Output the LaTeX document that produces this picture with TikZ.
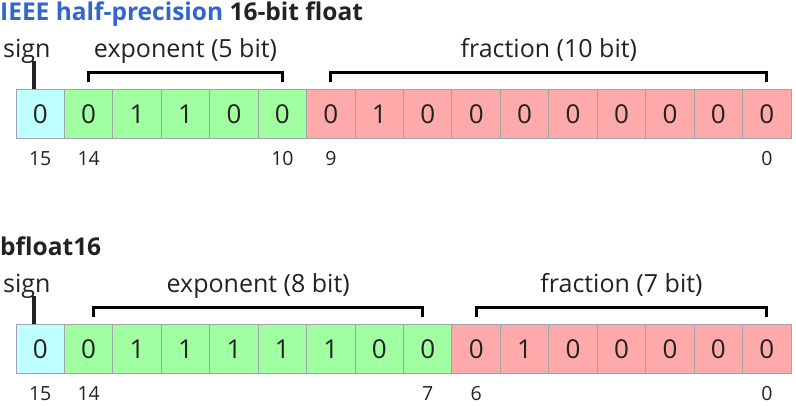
\documentclass[tikz,border=0pt]{standalone}
\usepackage{fontspec}
\setmainfont{Open Sans}
\usetikzlibrary{positioning,calc}
\definecolor{signcol}{HTML}{C0FFFF}
\definecolor{expcol}{HTML}{A0FFA0}
\definecolor{fraccol}{HTML}{FFAAAA}
\definecolor{gridcol}{HTML}{9EA4AA}
\definecolor{titleblue}{HTML}{3366CC}
\definecolor{ink}{HTML}{222222}
\begin{document}
\begin{tikzpicture}[x=1pt,y=1pt,
    cell/.style={draw=gridcol, line width=1pt, minimum width=48.44pt, minimum height=49pt,
      inner sep=0pt, font=\fontsize{26}{26}\selectfont, text=ink},
    idx/.style={font=\fontsize{19.5}{19.5}\selectfont, text=ink},
    field/.style={font=\fontsize{25}{25}\selectfont, text=ink, anchor=base, inner sep=0pt},
    bracket/.style={line width=3pt, black},
    signtick/.style={line width=3.5pt, ink},
    title/.style={font=\bfseries\fontsize{24.5}{24.5}\selectfont, text=ink, anchor=base west, inner sep=0pt}]

    \useasboundingbox (0,0) rectangle (796,406);

    % Define parameters
    \def\w{48.44}  % cell width
    \def\xo{16}    % left edge of both rows
    \def\ya{291.5} % centre of half-precision row
    \def\yb{56.5}  % centre of bfloat16 row

    % titles
    \node[title] (title1) at (0,385.3) {\textcolor{titleblue}{IEEE half-precision} 16-bit float};
    \node[title] (title2) at (0,150) {bfloat16};

    % half-precision cells
    \foreach \v [count=\k from 0] in {0,0,1,1,0,0,0,1,0,0,0,0,0,0,0,0} {
        \pgfmathtruncatemacro\n{15-\k}
        \ifnum\k<1 \def\c{signcol}\else\ifnum\k<6 \def\c{expcol}\else\def\c{fraccol}\fi\fi
        \node[cell, fill=\c] (h\n) at ({\xo+\w*(\k+0.5)}, \ya) {\v};
    }

    % bfloat16 cells
    \foreach \v [count=\k from 0] in {0,0,1,1,1,1,1,0,0,0,1,0,0,0,0,0} {
        \pgfmathtruncatemacro\n{15-\k}
        \ifnum\k<1 \def\c{signcol}\else\ifnum\k<9 \def\c{expcol}\else\def\c{fraccol}\fi\fi
        \node[cell, fill=\c] (b\n) at ({\xo+\w*(\k+0.5)}, \yb) {\v};
    }

    % bit indices
    \foreach \n in {15,14,10,9,0}
        \node[idx] (hi\n) at ([yshift=-19]h\n.south) {\n};
    \foreach \n in {15,14,7,6,0}
        \node[idx] (bi\n) at ([yshift=-19]b\n.south) {\n};

    % sign ticks
    \draw[signtick] ([xshift=-6]h15.north) -- ++(0,28);
    \draw[signtick] ([xshift=-6]b15.north) -- ++(0,28);

    % brackets
    \draw[bracket] ([yshift=7]h14.north) |- ([yshift=17]h10.north) -- ([yshift=7]h10.north);
    \draw[bracket] ([yshift=7]h9.north) |- ([yshift=17]h0.north) -- ([yshift=7]h0.north);
    \draw[bracket] ([xshift=5,yshift=7]b14.north) |- ([xshift=-5,yshift=17]b7.north) -- ([xshift=-5,yshift=7]b7.north);
    \draw[bracket] ([yshift=7]b6.north) |- ([yshift=17]b0.north) -- ([yshift=7]b0.north);

    % labels
    \node[field] (sgn1) at ([xshift=-13.5,yshift=32]h15.north) {sign};
    \node[field] (exp1) at ($(h14.north)!0.5!(h10.north)+(0,32)$) {exponent (5 bit)};
    \node[field] (frac1) at ($(h9.north)!0.5!(h0.north)+(0,32)$) {fraction (10 bit)};
    \node[field] (sgn2) at ([xshift=-13.5,yshift=32]b15.north) {sign};
    \node[field] (exp2) at ($(b14.north)!0.5!(b7.north)+(0,32)$) {exponent (8 bit)};
    \node[field] (frac2) at ($(b6.north)!0.5!(b0.north)+(0,32)$) {fraction (7 bit)};

\end{tikzpicture}
\end{document}
